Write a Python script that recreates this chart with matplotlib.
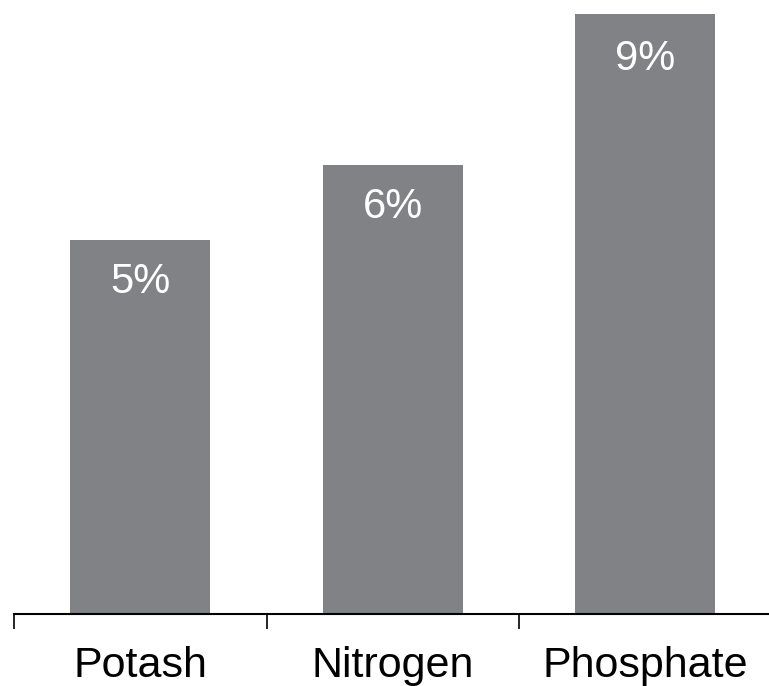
import matplotlib.pyplot as plt
import numpy as np

plt.rcParams['font.family'] = ['Liberation Sans', 'DejaVu Sans']

categories = ["Potash", "Nitrogen", "Phosphate"]
values = [5, 6, 9]
labels = ["5%", "6%", "9%"]

bar_color = "#808285"

fig = plt.figure(figsize=(7.69, 6.86), dpi=100)
ax = fig.add_axes([14 / 769, 72 / 686, 755 / 769, 600 / 686])

x = np.arange(len(categories))
ax.bar(x, values, width=0.556, color=bar_color)

ax.set_xlim(-0.5, 2.49)
ax.set_ylim(0, 8.02)
top = ax.get_ylim()[1]

# value labels inside the top of each bar (tallest bar runs off the top)
for xi, v, lab in zip(x, values, labels):
    ax.annotate(lab, (xi, min(v, top)), xytext=(0, -16 if v <= top else -18),
                textcoords="offset points", ha="center", va="top",
                color="white", fontsize=30)

# ticks sit between the categories, names go under the bars
ax.set_xticks(np.arange(len(categories)) - 0.5)
ax.set_xticklabels([])
ax.set_xticks(x, minor=True)
ax.set_xticklabels(categories, minor=True, fontsize=31)
ax.tick_params(axis="x", which="major", length=11, width=1.2, direction="out")
ax.tick_params(axis="x", which="minor", length=0, pad=23)

ax.set_yticks([])
for side in ["top", "right", "left"]:
    ax.spines[side].set_visible(False)
ax.spines["bottom"].set_linewidth(1.5)

fig.savefig("out.png", dpi=100)
